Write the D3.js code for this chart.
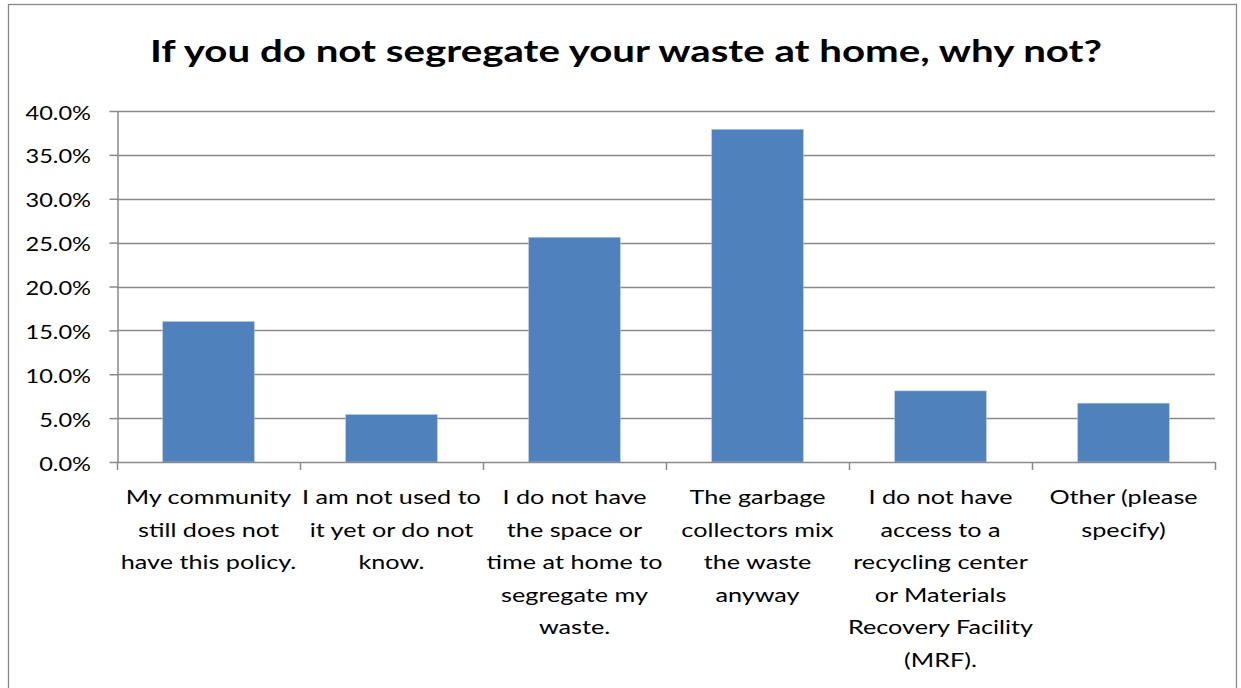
<!DOCTYPE html>
<html>
<head>
<meta charset="utf-8">
<script src="https://cdn.jsdelivr.net/npm/d3@7"></script>
<style>
  html, body { margin: 0; padding: 0; background: #fff; }
  svg { display: block; }
  text { font-family: Lato, "Open Sans", sans-serif; fill: #000; }
</style>
</head>
<body>
<svg id="chart" width="1241" height="688"></svg>
<script>
// Survey: reasons for not segregating household waste
const chartTitle = "If you do not segregate your waste at home, why not?";

const categories = [
  "My community\nstill does not\nhave this policy.",
  "I am not used to\nit yet or do not\nknow.",
  "I do not have\nthe space or\ntime at home to\nsegregate my\nwaste.",
  "The garbage\ncollectors mix\nthe waste\nanyway",
  "I do not have\naccess to a\nrecycling center\nor Materials\nRecovery Facility\n(MRF).",
  "Other (please\nspecify)"
];

const shares = [0.160, 0.054, 0.256, 0.379, 0.081, 0.067];

const yTicks = [0, 0.05, 0.10, 0.15, 0.20, 0.25, 0.30, 0.35, 0.40];

// the chart's type is drawn horizontally widened
const stretchTitle = 1.32;
const stretchLabel = 1.26;
const stretchTick = 1.18;

const svg = d3.select("#chart");

// outer chart frame
svg.append("rect")
  .attr("x", 8.5).attr("y", 4.5)
  .attr("width", 1228).attr("height", 700)
  .attr("fill", "#fff")
  .attr("stroke", "#878787")
  .attr("stroke-width", 1.3);

const plot = { left: 117, right: 1215, top: 111, bottom: 462 };

const x = d3.scaleBand()
  .domain(d3.range(categories.length))
  .range([plot.left, plot.right])
  .paddingInner(0.5)
  .paddingOuter(0.25);

const y = d3.scaleLinear()
  .domain([0, 0.40])
  .range([plot.bottom, plot.top]);

// title
svg.append("text")
  .attr("transform", `translate(626,62) scale(${stretchTitle},1)`)
  .attr("text-anchor", "middle")
  .style("font-size", "30.5px")
  .style("font-weight", "bold")
  .text(chartTitle);

// horizontal gridlines
svg.append("g")
  .selectAll("line")
  .data(yTicks.filter(t => t > 0))
  .join("line")
  .attr("x1", plot.left).attr("x2", plot.right)
  .attr("y1", d => Math.round(y(d)) + 0.5)
  .attr("y2", d => Math.round(y(d)) + 0.5)
  .attr("stroke", "#8a8a8a")
  .attr("stroke-width", 1.5);

// bars
svg.append("g")
  .selectAll("rect")
  .data(shares)
  .join("rect")
  .attr("x", (d, i) => x(i))
  .attr("y", d => y(d))
  .attr("width", x.bandwidth())
  .attr("height", d => y(0) - y(d))
  .attr("fill", "#4f81bd")
  .attr("stroke", "#a9c0dc")
  .attr("stroke-width", 0.6);

// y axis
const yAxis = d3.axisLeft(y)
  .tickValues(yTicks)
  .tickFormat(d3.format(".1%"))
  .tickSizeInner(8)
  .tickSizeOuter(0)
  .tickPadding(16);

const gy = svg.append("g")
  .attr("transform", `translate(${plot.left + 0.5},0)`)
  .call(yAxis);
gy.select(".domain").attr("stroke", "#8a8a8a").attr("stroke-width", 1.5);
gy.selectAll(".tick line").attr("stroke", "#8a8a8a").attr("stroke-width", 1.5);
gy.selectAll(".tick text")
  .attr("x", null).attr("dy", null)
  .attr("transform", `translate(-26.5,8) scale(${stretchTick},1)`)
  .style("font-size", "20px")
  .style("font-family", "Lato, 'Open Sans', sans-serif")
  .attr("fill", "#000");

// x axis: baseline plus ticks at category boundaries
const gx = svg.append("g");
gx.append("line")
  .attr("x1", plot.left).attr("x2", plot.right)
  .attr("y1", plot.bottom + 0.5).attr("y2", plot.bottom + 0.5)
  .attr("stroke", "#8a8a8a").attr("stroke-width", 1.5);

const boundary = i => Math.round(x(0) - x.paddingOuter() * x.step() + i * x.step()) + 0.5;
gx.selectAll("line.tick")
  .data(d3.range(categories.length + 1))
  .join("line")
  .attr("class", "tick")
  .attr("x1", boundary)
  .attr("x2", boundary)
  .attr("y1", plot.bottom)
  .attr("y2", plot.bottom + 8)
  .attr("stroke", "#8a8a8a").attr("stroke-width", 1.5);

// wrapped category labels
const labels = svg.append("g")
  .selectAll("text")
  .data(categories)
  .join("text")
  .attr("text-anchor", "middle")
  .style("font-size", "20px")
  .attr("transform", (d, i) => `translate(${x(i) + x.bandwidth() / 2},504) scale(${stretchLabel},1)`);

labels.each(function(d) {
  const t = d3.select(this);
  d.split("\n").forEach((line, k) => {
    t.append("tspan")
      .attr("x", 0)
      .attr("dy", k === 0 ? 0 : 32.6)
      .text(line);
  });
});
</script>
</body>
</html>
